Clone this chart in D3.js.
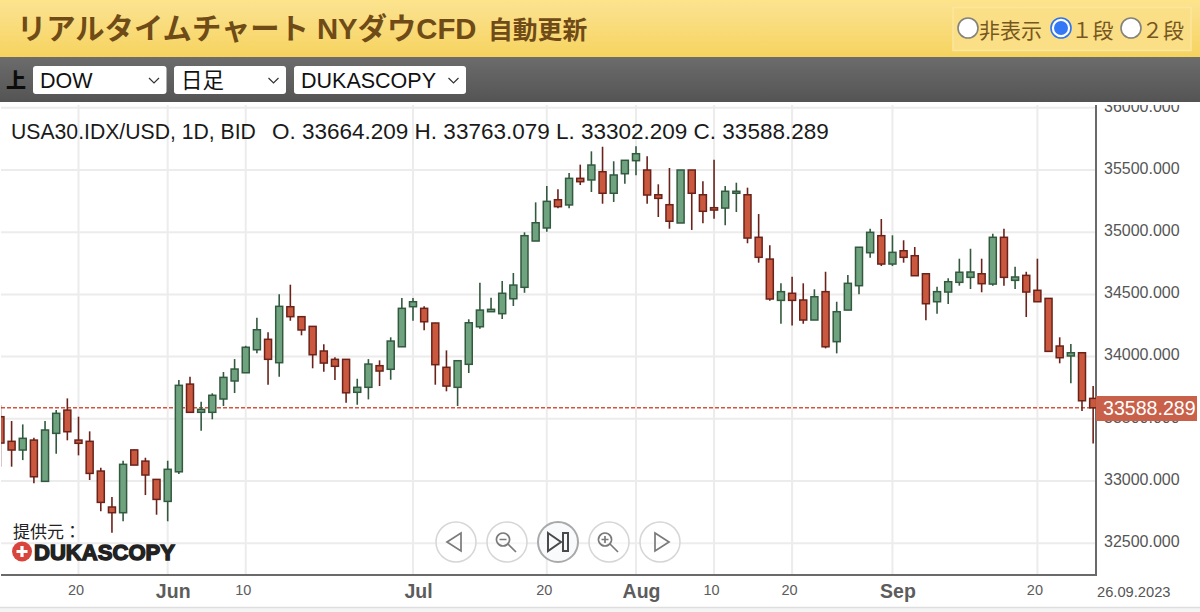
<!DOCTYPE html>
<html lang="ja">
<head>
<meta charset="utf-8">
<title>NYダウCFD</title>
<script src="https://cdn.jsdelivr.net/npm/d3@7"></script>
<style>
  html, body { margin: 0; padding: 0; background: #fff; overflow: hidden; }
  svg { display: block; }
  text { font-family: "Liberation Sans", "Noto Sans CJK JP", sans-serif; }
</style>
</head>
<body>
<script>
const w = 1200;
const h = 612;

const days = [
  "05-11","05-12","05-15","05-16","05-17","05-18","05-19","05-22","05-23","05-24","05-25","05-26",
  "05-29","05-30","05-31","06-01","06-02","06-05","06-06","06-07","06-08","06-09","06-12","06-13",
  "06-14","06-15","06-16","06-19","06-20","06-21","06-22","06-23","06-26","06-27","06-28","06-29",
  "06-30","07-03","07-05","07-06","07-07","07-10","07-11","07-12","07-13","07-14","07-17","07-18",
  "07-19","07-20","07-21","07-24","07-25","07-26","07-27","07-28","07-31","08-01","08-02","08-03",
  "08-04","08-07","08-08","08-09","08-10","08-11","08-14","08-15","08-16","08-17","08-18","08-21",
  "08-22","08-23","08-24","08-25","08-28","08-29","08-30","08-31","09-01","09-04","09-05","09-06",
  "09-07","09-08","09-11","09-12","09-13","09-14","09-15","09-18","09-19","09-20","09-21","09-22",
  "09-25","09-26","09-27"
];

const opens = [
  33517,33319,33249,33329,32997,33383,33570,33329,33319,33080,32791,32745,
  33250,33160,33013,32836,33074,33779,33552,33552,33659,33804,33870,34055,
  34139,33951,34401,34321,34243,34045,33978,33978,33713,33753,33927,33898,
  34079,34401,34388,34270,33914,33753,33938,34240,34361,34345,34465,34557,
  34929,35034,35261,35219,35433,35420,35486,35313,35470,35575,35500,35301,
  35221,35074,35500,35301,35197,35194,35313,35301,34959,34784,34452,34509,
  34455,34294,34522,34120,34374,34570,34835,34972,34744,34851,34811,34666,
  34441,34519,34597,34637,34666,34583,34959,34613,34653,34533,34468,34085,
  34005,34031,33664.209
];
const highs = [
  33611,33482,33455,33348,33482,33570,33664,33517,33399,33107,32871,33163,
  33254,33187,33016,33163,33812,33838,33637,33705,33876,33980,34087,34312,
  34195,34501,34578,34326,34246,34099,33994,33980,33822,33980,33970,34155,
  34471,34471,34404,34272,34050,33972,34300,34594,34473,34608,34672,34999,
  35240,35371,35345,35476,35543,35650,35687,35570,35580,35691,35610,35385,
  35516,35500,35500,35409,35583,35371,35398,35358,35146,34895,34589,34642,
  34589,34541,34682,34441,34656,34879,35028,35106,34975,34935,34881,34666,
  34562,34629,34787,34867,34787,34988,35028,34723,34682,34787,34468,34155,
  34101,34034,33763.079
];
const lows = [
  33115,33115,33168,32981,32997,33219,33327,33206,33008,32756,32584,32676,
  33128,32887,32729,32676,33056,33552,33404,33496,33603,33707,33870,34026,
  33774,33838,34288,34171,33906,33878,33812,33629,33613,33656,33763,33814,
  34079,34288,34211,33774,33721,33603,33868,34224,34361,34302,34407,34513,
  34929,35004,35192,35192,35379,35323,35229,35243,35390,35457,35229,35122,
  35028,35074,35018,35071,35108,35055,35162,34911,34755,34449,34264,34251,
  34264,34294,34066,34026,34374,34501,34795,34728,34728,34755,34650,34292,
  34345,34423,34570,34543,34517,34570,34570,34543,34318,34441,34042,33946,
  33785,33562,33302.209
];
const closes = [
  33305,33249,33343,33034,33410,33544,33396,33303,33061,32828,32745,33134,
  33128,33048,32852,33094,33769,33552,33576,33689,33833,33900,34075,34216,
  33978,34404,34321,34214,34015,33948,33922,33709,33753,33940,33884,34125,
  34388,34441,34280,33935,33763,33967,34272,34374,34380,34509,34575,34972,
  35076,35248,35205,35433,35406,35540,35313,35460,35578,35631,35299,35272,
  35088,35500,35313,35168,35178,35329,35329,34953,34798,34463,34522,34452,
  34294,34481,34079,34361,34589,34879,34999,34744,34838,34798,34650,34425,
  34522,34602,34678,34680,34586,34959,34637,34640,34519,34441,34042,33991,
  34031,33645,33588.289
];

const priceTicks = [32500,33000,33500,34000,34500,35000,35500,36000];
const dateTicks = ["05-22","06-01","06-12","07-03","07-20","08-01","08-10","08-21","09-01","09-20"];
const dateLabels = ["20","Jun","10","Jul","20","Aug","10","20","Sep","20"];
const monthLabels = ["Jun","Jul","Aug","Sep"];

const lastPrice = closes[closes.length - 1];
const infoName = "USA30.IDX/USD, 1D, BID";
const infoValues = "O. 33664.209 H. 33763.079 L. 33302.209 C. 33588.289";
const selectLabels = ["DOW", "日足", "DUKASCOPY"];

const plotLeft = 1, plotRight = 1096, plotTop = 105, plotBottom = 575;

const xScale = d3.scalePoint().domain(days).range([0.45, 1093.15]);
const yScale = d3.scaleLinear().domain([32500, 36000]).range([543.2, 107.8]);

const svg = d3.select("body").append("svg").attr("width", w).attr("height", h);
const defs = svg.append("defs");

function gradient(id, stops) {
  const g = defs.append("linearGradient").attr("id", id).attr("x1", 0).attr("y1", 0).attr("x2", 0).attr("y2", 1);
  stops.forEach(s => g.append("stop").attr("offset", s[0]).attr("stop-color", s[1]));
}
gradient("gold", [[0, "#fde489"], [0.12, "#fbe18d"], [1, "#f6d35f"]]);
gradient("dark", [[0, "#6c6c6c"], [1, "#545454"]]);

defs.append("clipPath").attr("id", "plot").append("rect")
  .attr("x", plotLeft).attr("y", plotTop).attr("width", plotRight - plotLeft).attr("height", plotBottom - plotTop);
defs.append("clipPath").attr("id", "labels").append("rect")
  .attr("x", plotRight).attr("y", plotTop).attr("width", w - plotRight).attr("height", plotBottom - plotTop);

// ヘッダー
svg.append("rect").attr("width", w).attr("height", 57).attr("fill", "url(#gold)");
svg.append("rect").attr("y", 57).attr("width", w).attr("height", 45).attr("fill", "url(#dark)");

svg.append("text").attr("x", 17).attr("y", 39)
  .attr("font-size", 29.3).attr("font-weight", 700).attr("fill", "#6f4b17")
  .text("リアルタイムチャート NYダウCFD");
svg.append("text").attr("x", 488).attr("y", 39)
  .attr("font-size", 24.8).attr("font-weight", 700).attr("fill", "#6f4b17")
  .text("自動更新");

svg.append("rect").attr("x", 953).attr("y", 7.5).attr("width", 238).attr("height", 43)
  .attr("fill", "#fadf86").attr("stroke", "#fce69d").attr("stroke-width", 1.5);

const radios = [
  { cx: 968, label: "非表示", tx: 979, on: false },
  { cx: 1061, label: "１段", tx: 1071.5, on: true },
  { cx: 1131, label: "２段", tx: 1142, on: false }
];
radios.forEach(r => {
  svg.append("circle").attr("cx", r.cx).attr("cy", 28).attr("r", 10)
    .attr("fill", "#fff").attr("stroke", r.on ? "#2f74ee" : "#85827a").attr("stroke-width", 1.6);
  if (r.on) svg.append("circle").attr("cx", r.cx).attr("cy", 28).attr("r", 7).attr("fill", "#3478f6");
  svg.append("text").attr("x", r.tx).attr("y", 38).attr("font-size", 21).attr("fill", "#775720").text(r.label);
});

// ツールバー
svg.append("text").attr("x", 6).attr("y", 88).attr("font-size", 20).attr("font-weight", 900).attr("fill", "#0c0c0c").text("上");

const selects = [{ x: 33, w: 133.5, cx: 154 }, { x: 174, w: 112, cx: 273.5 }, { x: 294, w: 172, cx: 453.5 }];
selects.forEach((s, i) => {
  svg.append("rect").attr("x", s.x).attr("y", 66).attr("width", s.w).attr("height", 28).attr("rx", 3).attr("fill", "#fff");
  svg.append("text").attr("x", s.x + 7).attr("y", 87.5).attr("font-size", 21.5).attr("fill", "#111").text(selectLabels[i]);
  svg.append("path").attr("d", `M${s.cx - 5},78 L${s.cx},83 L${s.cx + 5},78`)
    .attr("fill", "none").attr("stroke", "#333").attr("stroke-width", 1.2);
});

// グリッド
const grid = svg.append("g").attr("clip-path", "url(#plot)").attr("stroke", "#ececec").attr("stroke-width", 2);
grid.selectAll("line.h").data(priceTicks).enter().append("line").attr("class", "h")
  .attr("x1", plotLeft).attr("x2", plotRight).attr("y1", d => yScale(d)).attr("y2", d => yScale(d));
grid.selectAll("line.v").data(dateTicks).enter().append("line").attr("class", "v")
  .attr("x1", d => xScale(d)).attr("x2", d => xScale(d)).attr("y1", plotTop).attr("y2", plotBottom);

// 軸
const yAxis = d3.axisRight(yScale).tickValues(priceTicks).tickSize(0).tickPadding(8).tickFormat(d3.format(".3f"));
const yAxisG = svg.append("g").attr("clip-path", "url(#labels)")
  .append("g").attr("transform", `translate(${plotRight},0)`).call(yAxis);
yAxisG.select(".domain").remove();
yAxisG.selectAll("text").attr("font-size", 16).attr("fill", "#555").attr("font-family", "Liberation Sans").attr("dy", "0.2em");

const xAxis = d3.axisBottom(xScale).tickValues(dateTicks).tickSize(0).tickPadding(8)
  .tickFormat((d, i) => dateLabels[i]);
const xAxisG = svg.append("g").attr("transform", `translate(0,${plotBottom})`).call(xAxis);
xAxisG.select(".domain").remove();
xAxisG.selectAll("text")
  .attr("font-family", "Liberation Sans")
  .attr("fill", "#5c5c5c")
  .attr("font-size", (d, i) => monthLabels.includes(dateLabels[i]) ? 19.5 : 14.5)
  .attr("font-weight", (d, i) => monthLabels.includes(dateLabels[i]) ? 700 : 400)
  .attr("dx", (d, i) => monthLabels.includes(dateLabels[i]) ? 5 : -3)
  .attr("y", (d, i) => monthLabels.includes(dateLabels[i]) ? 9 : 10);

svg.append("text").attr("x", 1097).attr("y", 596.5).attr("font-size", 14.7).attr("fill", "#555").text("26.09.2023");

svg.append("path").attr("d", `M${plotLeft},${plotBottom} H${plotRight} V${plotTop}`)
  .attr("fill", "none").attr("stroke", "#6a6a6a").attr("stroke-width", 2);

svg.append("rect").attr("y", 607).attr("width", w).attr("height", 5).attr("fill", "#f4f4f4");
svg.append("line").attr("x1", 0).attr("x2", w).attr("y1", 607.5).attr("y2", 607.5).attr("stroke", "#dedede").attr("stroke-width", 1.5);

// 現在値ライン
svg.append("line").attr("x1", plotLeft).attr("x2", plotRight)
  .attr("y1", yScale(lastPrice)).attr("y2", yScale(lastPrice))
  .attr("stroke", "#d9533c").attr("stroke-width", 1.5).attr("stroke-dasharray", "4,2");

// ローソク足
const bodyWidth = 7;
const candles = svg.append("g").attr("clip-path", "url(#plot)")
  .selectAll("g").data(days).enter().append("g")
  .attr("class", (d, i) => closes[i] >= opens[i] ? "up" : "down");
const edge = i => closes[i] >= opens[i] ? "#33593f" : "#6a231b";

candles.append("line")
  .attr("x1", d => xScale(d)).attr("x2", d => xScale(d))
  .attr("y1", (d, i) => yScale(highs[i])).attr("y2", (d, i) => yScale(lows[i]))
  .attr("stroke", (d, i) => edge(i)).attr("stroke-width", 1.6);
candles.append("rect")
  .attr("x", d => xScale(d) - bodyWidth / 2).attr("width", bodyWidth)
  .attr("y", (d, i) => yScale(Math.max(opens[i], closes[i])))
  .attr("height", (d, i) => Math.abs(yScale(opens[i]) - yScale(closes[i])))
  .attr("fill", (d, i) => closes[i] >= opens[i] ? "#6fa380" : "#c9583f")
  .attr("stroke", (d, i) => edge(i)).attr("stroke-width", 1.5);

svg.append("rect").attr("x", plotRight).attr("y", 396).attr("width", 101).attr("height", 25).attr("fill", "#c9604a");
svg.append("text").attr("x", 1103).attr("y", 415.3).attr("font-size", 19.6).attr("fill", "#fff").text(d3.format(".3f")(lastPrice));

svg.append("text").attr("x", 11).attr("y", 139).attr("font-size", 21.2).attr("fill", "#1a1a1a").text(infoName);
svg.append("text").attr("x", 272).attr("y", 139).attr("font-size", 22.5).attr("fill", "#1a1a1a").text(infoValues);

// 提供元ロゴ
svg.append("text").attr("x", 13).attr("y", 538).attr("font-size", 17).attr("fill", "#222").text("提供元：");
svg.append("circle").attr("cx", 22).attr("cy", 551.5).attr("r", 10).attr("fill", "#d8453d");
svg.append("path").attr("d", "M22,546 V557 M16.5,551.5 H27.5").attr("stroke", "#fff").attr("stroke-width", 3.2);
svg.append("text").attr("x", 34).attr("y", 560).attr("font-size", 22).attr("font-weight", 700)
  .attr("fill", "#222").attr("stroke", "#222").attr("stroke-width", 1.4)
  .attr("textLength", 141).attr("lengthAdjust", "spacingAndGlyphs").text("DUKASCOPY");

// ナビボタン
const buttons = [
  { cx: 456, icon: "M-9,0 L5,-9 V9 Z" },
  { cx: 507, icon: "M-4,-9 a6.5,6.5 0 1,0 0.01,0 M-7.5,-2.5 H-0.5 M1,2 L9,10" },
  { cx: 558, icon: "M-10,-9 L3,0 L-10,9 Z M5,-9 H10 V9 H5 Z", active: true },
  { cx: 609, icon: "M-4,-9 a6.5,6.5 0 1,0 0.01,0 M-7.5,-2.5 H-0.5 M-4,-6 V1 M1,2 L9,10" },
  { cx: 660, icon: "M-5,-9 L9,0 L-5,9 Z" }
];
buttons.forEach(b => {
  const g = svg.append("g").attr("transform", `translate(${b.cx},542)`);
  g.append("circle").attr("r", 20)
    .attr("fill", b.active ? "rgba(248,249,252,0.9)" : "rgba(255,255,255,0.6)")
    .attr("stroke", b.active ? "#a9a9a9" : "#d6d6d6").attr("stroke-width", b.active ? 2 : 1.5);
  g.append("path").attr("d", b.icon).attr("fill", "none")
    .attr("stroke", b.active ? "#4a4a4a" : "#7a7a7a").attr("stroke-width", b.active ? 2 : 1.7);
});
</script>
</body>
</html>
